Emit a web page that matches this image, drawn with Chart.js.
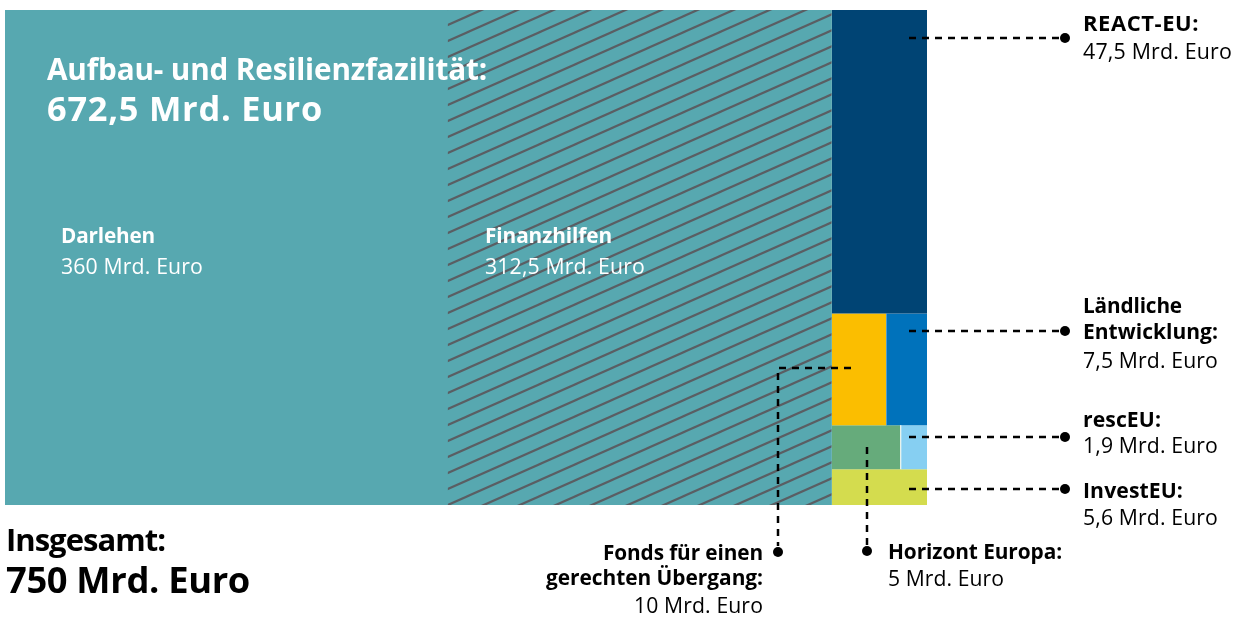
<!DOCTYPE html>
<html><head><meta charset="utf-8">
<script src="https://cdn.jsdelivr.net/npm/chart.js@4/dist/chart.umd.min.js"></script>
<style>
html,body{margin:0;padding:0;background:#fff;}
#wrap{position:relative;width:1239px;height:622px;overflow:hidden;font-family:"Open Sans","Noto Sans",sans-serif;}
#c{position:absolute;left:0;top:0;}
.lbl{position:absolute;white-space:nowrap;line-height:1;}
</style></head>
<body><div id="wrap"><canvas id="c" width="1239" height="622"></canvas></div>
<script>
// ---- data ----
const categories = ['Darlehen','Finanzhilfen','REACT-EU','Fonds für einen gerechten Übergang','Ländliche Entwicklung','Horizont Europa','rescEU','InvestEU'];
const values = [360, 312.5, 47.5, 10, 7.5, 5, 1.9, 5.6];
const groupMain = [0, 1];                 // Aufbau- und Resilienzfazilität
const columnRows = [[2], [3, 4], [5, 6], [7]]; // stacked column on the right
const colors = ['#57a8b0', '#57a8b0', '#004474', '#fbbe00', '#0072bb', '#66ab7b', '#86cff2', '#d4dc4e'];
const total = values.reduce((a, b) => a + b, 0);

// ---- treemap layout in value units (x: 0..total, y: 0..1) ----
function layout() {
  const rects = [];
  let x = 0;
  groupMain.forEach(i => { rects[i] = {x0: x, x1: x + values[i], y0: 0, y1: 1}; x += values[i]; });
  const cx0 = x, cx1 = total;
  const colSum = columnRows.flat().reduce((s, i) => s + values[i], 0);
  let y = 0;
  columnRows.forEach(row => {
    const rs = row.reduce((s, i) => s + values[i], 0);
    const h = rs / colSum;
    let xx = cx0;
    row.forEach(i => {
      const w = (cx1 - cx0) * values[i] / rs;
      rects[i] = {x0: xx, x1: xx + w, y0: y, y1: y + h};
      xx += w;
    });
    y += h;
  });
  return rects;
}
const rects = layout();

// hatch pattern for Finanzhilfen
function hatch() {
  const c = document.createElement('canvas');
  c.width = 36; c.height = 16;
  const g = c.getContext('2d');
  g.fillStyle = '#57a8b0'; g.fillRect(0, 0, 36, 16);
  g.strokeStyle = '#5a5e63'; g.lineWidth = 2.2;
  for (let k = -1; k <= 1; k++) {
    g.beginPath(); g.moveTo(-2, 16 + k * 16 + 2 * 16 / 36); g.lineTo(38, k * 16 - 2 * 16 / 36); g.stroke();
  }
  return document.getElementById('c').getContext('2d').createPattern(c, 'repeat');
}
const pat = hatch();

const datasets = rects.map((r, i) => ({
  label: categories[i],
  data: [{x: r.x0, y: r.y0}, {x: r.x1, y: r.y0}],
  showLine: true,
  borderWidth: 0,
  pointRadius: 0,
  backgroundColor: i === 1 ? pat : colors[i],
  fill: {value: r.y1}
}));

// underlay: solid teal beneath the Aufbau- und Resilienzfazilität block (avoids seam)
const underlay = {
  id: 'underlay',
  beforeDatasetsDraw(chart) {
    const xs = chart.scales.x, ys = chart.scales.y, ctx = chart.ctx;
    const a = rects[groupMain[0]], b = rects[groupMain[groupMain.length - 1]];
    ctx.save();
    ctx.fillStyle = colors[0];
    const x0 = xs.getPixelForValue(a.x0), x1 = xs.getPixelForValue(b.x1);
    const y0 = ys.getPixelForValue(a.y0), y1 = ys.getPixelForValue(a.y1);
    ctx.fillRect(x0, y0, x1 - x0, y1 - y0);
    ctx.restore();
  }
};

// leader lines (pixel annotation geometry)
const leaders = [
  {pts: [[909, 38], [1060, 38]], dot: [1065, 38]},
  {pts: [[909, 331], [1060, 331]], dot: [1065, 331]},
  {pts: [[909, 437], [1060, 437]], dot: [1065, 437]},
  {pts: [[909, 489], [1060, 489]], dot: [1065, 489]},
  {pts: [[851, 368], [778, 368], [778, 546]], dot: [778, 552]},
  {pts: [[867, 447], [867, 545]], dot: [867, 551]}
];
const leaderPlugin = {
  id: 'leaders',
  afterDatasetsDraw(chart) {
    const ctx = chart.ctx;
    ctx.save();
    const xs = chart.scales.x, ys = chart.scales.y;
    const r = rects[6];
    ctx.fillStyle = '#fff';
    ctx.fillRect(xs.getPixelForValue(r.x0) - 0.5, ys.getPixelForValue(r.y0), 1, ys.getPixelForValue(r.y1) - ys.getPixelForValue(r.y0));
    ctx.strokeStyle = '#000'; ctx.fillStyle = '#000';
    ctx.lineWidth = 2.5; ctx.setLineDash([7, 6]);
    leaders.forEach(l => {
      ctx.beginPath();
      l.pts.forEach((p, j) => j ? ctx.lineTo(p[0], p[1]) : ctx.moveTo(p[0], p[1]));
      ctx.stroke();
      ctx.beginPath(); ctx.arc(l.dot[0], l.dot[1], 5, 0, Math.PI * 2); ctx.fill();
    });
    ctx.restore();
  }
};

new Chart(document.getElementById('c'), {
  type: 'scatter',
  data: {datasets},
  options: {
    responsive: false,
    animation: false,
    layout: {padding: {left: 5, right: 312, top: 10, bottom: 117}},
    plugins: {legend: {display: false}, tooltip: {enabled: false}},
    scales: {
      x: {type: 'linear', min: 0, max: total, display: false},
      y: {type: 'linear', min: 0, max: 1, reverse: true, display: false}
    }
  },
  plugins: [underlay, leaderPlugin]
});

// ---- text labels ----
const wrap = document.getElementById('wrap');
function place(text, x, baseline, size, bold, color, align, targetW) {
  const d = document.createElement('div');
  d.className = 'lbl';
  d.textContent = text;
  d.style.fontSize = size + 'px';
  d.style.fontWeight = bold ? '700' : '400';
  d.style.color = color;
  wrap.appendChild(d);
  if (targetW) {
    const w = d.getBoundingClientRect().width;
    const s2 = size * Math.sqrt(targetW / w);
    d.style.fontSize = s2 + 'px';
    size = s2;
    const w1 = d.getBoundingClientRect().width;
    d.style.letterSpacing = ((targetW - w1) / text.length) + 'px';
  }
  d.style.top = (baseline - 0.888 * size) + 'px';
  const w2 = d.getBoundingClientRect().width;
  d.style.left = (align === 'right' ? x - w2 : x) + 'px';
}
const W = '#fff', K = '#000';
place('Aufbau- und Resilienzfazilität:', 47, 80, 30, true, W, 'left', 440);
place('672,5 Mrd. Euro', 47, 122, 33, true, W, 'left', 276);
place('Darlehen', 61, 243, 21, true, W, 'left', 94);
place('360 Mrd. Euro', 61, 274, 21, false, W, 'left', 142);
place('Finanzhilfen', 485, 243, 21, true, W, 'left', 127);
place('312,5 Mrd. Euro', 485, 274, 21, false, W, 'left', 160);
place('REACT-EU:', 1083, 32, 21, true, K, 'left', 116);
place('47,5 Mrd. Euro', 1083, 59, 21, false, K, 'left', 149);
place('Ländliche', 1083, 313, 21, true, K, 'left', 99);
place('Entwicklung:', 1083, 340, 21, true, K, 'left', 135);
place('7,5 Mrd. Euro', 1083, 368, 21, false, K, 'left', 135);
place('rescEU:', 1083, 427, 21, true, K, 'left', 78);
place('1,9 Mrd. Euro', 1083, 453, 21, false, K, 'left', 135);
place('InvestEU:', 1083, 498, 21, true, K, 'left', 100);
place('5,6 Mrd. Euro', 1083, 525, 21, false, K, 'left', 135);
place('Fonds für einen', 763, 560, 21, true, K, 'right', 160);
place('gerechten Übergang:', 763, 586, 21, true, K, 'right', 217);
place('10 Mrd. Euro', 763, 613, 21, false, K, 'right', 129);
place('Horizont Europa:', 888, 560, 21, true, K, 'left', 174);
place('5 Mrd. Euro', 888, 586, 21, false, K, 'left', 116);
place('Insgesamt:', 6, 552, 33, true, K, 'left', 159);
place('750 Mrd. Euro', 6, 593, 37, true, K, 'left', 244);
</script>
</body></html>
